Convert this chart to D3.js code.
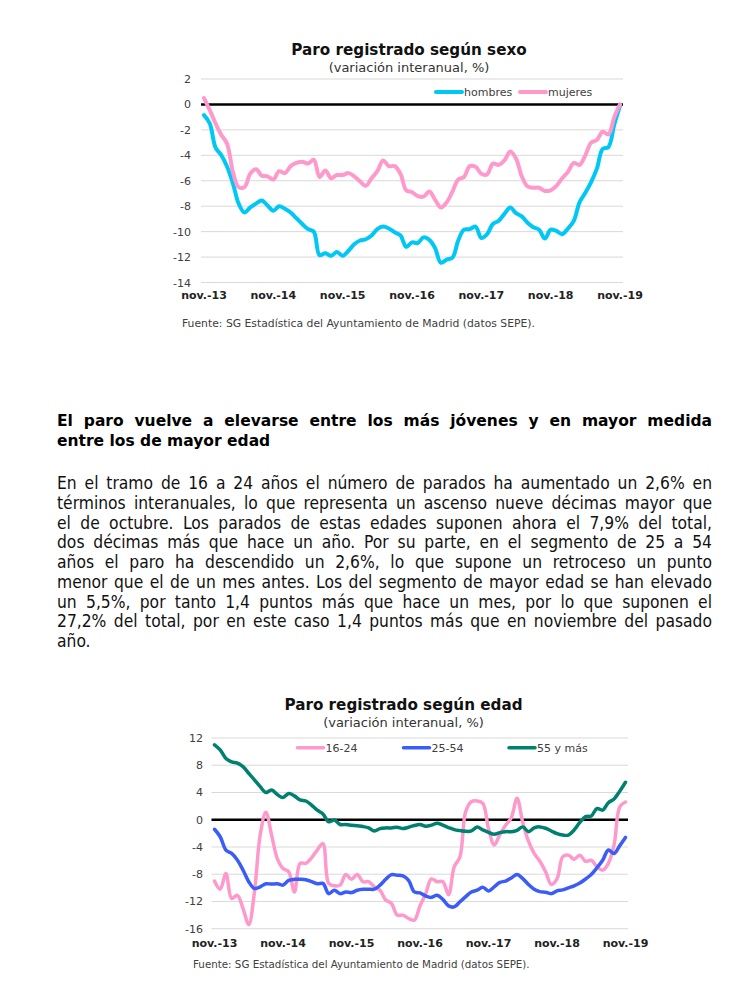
<!DOCTYPE html>
<html><head><meta charset="utf-8">
<script src="https://cdn.jsdelivr.net/npm/d3@7"></script>
<style>html,body{margin:0;padding:0;background:#fff;}svg{display:block;}</style>
</head><body>
<svg id="c" width="744" height="1001"></svg>
<script>
// ---------- DATA ----------
const months = d3.range(73); // nov-13 .. nov-19 monthly
const xTickLabels = ["nov.-13","nov.-14","nov.-15","nov.-16","nov.-17","nov.-18","nov.-19"];

const hombres = [-0.84,-1.5,-3.4,-4.0,-4.9,-6.2,-7.8,-8.5,-8.1,-7.8,-7.55,-7.95,-8.35,-8.0,-8.2,-8.5,-8.95,-9.4,-9.8,-10.0,
 -11.85,-11.7,-11.9,-11.6,-11.9,-11.5,-11.0,-10.7,-10.6,-10.3,-9.8,-9.6,-9.75,-10.05,-10.3,-11.2,
 -10.85,-10.9,-10.45,-10.65,-11.3,-12.45,-12.2,-12.05,-10.7,-9.85,-9.8,-9.6,-10.5,-10.2,-9.4,-9.15,-8.6,-8.1,-8.55,-8.8,
 -9.3,-9.65,-9.85,-10.55,-9.85,-9.95,-10.2,-9.75,-9.15,-7.7,-6.95,-6.1,-5.05,-3.5,-3.35,-1.6,-0.1];
const mujeres = [0.5,-0.45,-1.5,-2.4,-3.1,-5.3,-6.5,-6.5,-5.45,-5.1,-5.6,-5.65,-5.9,-5.25,-5.4,-4.85,-4.6,-4.5,-4.65,-4.35,
 -5.7,-5.2,-5.8,-5.55,-5.55,-5.4,-5.65,-6.05,-6.4,-5.8,-5.25,-4.4,-4.85,-4.85,-5.45,-6.75,
 -6.9,-7.2,-7.25,-6.85,-7.5,-8.1,-7.7,-6.85,-5.9,-5.7,-4.85,-4.9,-5.45,-5.5,-4.65,-4.75,-4.4,-3.7,-4.25,-5.65,
 -6.45,-6.55,-6.55,-6.8,-6.75,-6.4,-5.8,-5.3,-4.6,-4.75,-4.0,-3.0,-2.8,-2.15,-2.35,-1.0,0.0];

const edad1624 = [-9.0,-10.2,-7.9,-11.55,-11.1,-13.05,-15.4,-10.6,-2.25,1.1,-2.25,-5.7,-7.15,-7.65,-10.6,-6.4,-6.4,-5.6,-4.45,-3.5,
 -9.35,-9.7,-9.6,-8.05,-8.75,-8.05,-9.1,-9.1,-9.85,-10.35,-11.8,-12.3,-14.0,-14.0,-14.5,-14.75,
 -12.65,-10.85,-8.7,-9.1,-9.1,-11.0,-6.9,-5.45,1.2,2.65,2.75,2.4,-1.3,-3.7,-2.15,-0.8,0.3,3.15,-0.4,-3.15,
 -4.95,-6.1,-7.65,-9.5,-8.7,-5.45,-5.2,-5.8,-5.2,-6.1,-5.95,-6.9,-7.4,-6.4,-3.7,1.9,2.6];
const edad2554 = [-1.4,-2.5,-4.45,-4.95,-5.9,-7.4,-9.1,-10.1,-9.85,-9.4,-9.45,-9.4,-9.6,-8.9,-8.75,-8.75,-8.8,-9.1,-9.4,-9.35,
 -10.85,-10.35,-10.85,-10.6,-10.7,-10.35,-10.2,-10.2,-10.2,-9.6,-8.75,-8.05,-8.15,-8.25,-8.9,-10.6,
 -10.75,-11.2,-11.4,-11.1,-11.7,-12.65,-12.8,-12.05,-11.3,-10.6,-10.35,-9.9,-10.45,-9.85,-9.2,-9.0,-8.55,-8.05,-8.65,-9.5,
 -10.2,-10.55,-10.65,-10.85,-10.45,-10.3,-10.0,-9.7,-9.3,-8.7,-8.05,-7.05,-5.95,-4.45,-4.95,-3.8,-2.6];
const edad55 = [11.0,10.25,9.0,8.5,8.3,7.8,6.8,5.85,4.85,4.0,4.35,3.7,3.25,3.85,3.5,2.9,2.75,2.15,1.4,0.85,
 -0.3,-0.05,-0.7,-0.7,-0.8,-0.9,-1.0,-1.2,-1.65,-1.3,-1.2,-1.2,-1.1,-1.3,-1.1,-0.85,
 -0.7,-0.95,-0.8,-0.5,-0.8,-1.15,-1.45,-1.6,-1.7,-1.65,-1.05,-1.5,-1.85,-2.15,-1.9,-1.75,-1.75,-1.55,-1.05,-1.75,
 -1.2,-1.05,-1.25,-1.65,-2.05,-2.25,-2.25,-1.5,-0.4,0.45,0.55,1.65,1.4,2.5,3.05,4.2,5.5];

const sexoTicks = [2,0,-2,-4,-6,-8,-10,-12,-14];
const edadTicks = [12,8,4,0,-4,-8,-12,-16];

const heading = ["El paro vuelve a elevarse entre los más jóvenes y en mayor medida","entre los de mayor edad"];
const bodyLines = [
 "En el tramo de 16 a 24 años el número de parados ha aumentado un 2,6% en",
 "términos interanuales, lo que representa un ascenso nueve décimas mayor que",
 "el de octubre. Los parados de estas edades suponen ahora el 7,9% del total,",
 "dos décimas más que hace un año. Por su parte, en el segmento de 25 a 54",
 "años el paro ha descendido un 2,6%, lo que supone un retroceso un punto",
 "menor que el de un mes antes. Los del segmento de mayor edad se han elevado",
 "un 5,5%, por tanto 1,4 puntos más que hace un mes, por lo que suponen el",
 "27,2% del total, por en este caso 1,4 puntos más que en noviembre del pasado",
 "año."];
const fuente = "Fuente: SG Estadística del Ayuntamiento de Madrid (datos SEPE).";

// ---------- DRAW ----------
const svg = d3.select("#c");
svg.append("rect").attr("width",744).attr("height",1001).attr("fill","#fff");
const chartFont = "'DejaVu Sans', Verdana, sans-serif";

function chart(cfg){
  const g = svg.append("g").attr("font-family", chartFont);
  const x = d3.scaleLinear().domain([0,72]).range(cfg.xr);
  const y = d3.scaleLinear().domain(cfg.yd).range(cfg.yr);
  g.append("text").attr("x",cfg.tx).attr("y",cfg.ty).attr("text-anchor","middle")
    .attr("font-weight","bold").attr("font-size",15.2).attr("fill","#111").text(cfg.title);
  g.append("text").attr("x",cfg.tx).attr("y",cfg.ty+17).attr("text-anchor","middle")
    .attr("font-size",13).attr("fill","#333").text("(variación interanual, %)");
  // grid
  g.selectAll(".grid").data(cfg.ticks).join("line")
    .attr("x1",cfg.gx[0]).attr("x2",cfg.gx[1])
    .attr("y1",d=>y(d)).attr("y2",d=>y(d))
    .attr("stroke","#d9d9d9").attr("stroke-width",1);
  g.selectAll(".yl").data(cfg.ticks).join("text")
    .attr("x",cfg.ylx).attr("y",d=>y(d)+4).attr("text-anchor","end")
    .attr("font-size",11).attr("fill","#404040").text(d=>d);
  // x labels
  g.selectAll(".xl").data(xTickLabels).join("text")
    .attr("x",(d,i)=>x(i*12)).attr("y",cfg.xly).attr("text-anchor","middle")
    .attr("font-size",11).attr("font-weight","bold").attr("fill","#222").text(d=>d);
  // zero line
  g.append("line").attr("x1",cfg.gx[0]).attr("x2",cfg.gx[1]).attr("y1",y(0)).attr("y2",y(0))
    .attr("stroke","#000").attr("stroke-width",2.5);
  const line = d3.line().x((d,i)=>x(i)).y(d=>y(d)).curve(d3.curveCatmullRom.alpha(0.5));
  cfg.series.forEach(s=>{
    g.append("path").attr("d",line(s.values)).attr("fill","none")
      .attr("stroke",s.color).attr("stroke-width",cfg.lw).attr("stroke-linejoin","round").attr("stroke-linecap","round");
  });
  // legend
  cfg.series.forEach(s=>{
    g.append("line").attr("x1",s.lx).attr("x2",s.lx+26).attr("y1",cfg.ly).attr("y2",cfg.ly)
      .attr("stroke",s.color).attr("stroke-width",cfg.lw).attr("stroke-linecap","round");
    g.append("text").attr("x",s.lx+28).attr("y",cfg.ly+4).attr("font-size",11).attr("fill","#404040").text(s.name);
  });
  g.append("text").attr("x",cfg.sx).attr("y",cfg.sy).attr("font-size",cfg.sfs).attr("fill","#404040").text(fuente);
}

chart({title:"Paro registrado según sexo", tx:409, ty:55,
  xr:[204,620], yd:[-14,2], yr:[282.5,79], gx:[201,623], ylx:191, xly:299, ticks:sexoTicks, lw:4,
  ly:92, sx:182, sy:326.5, sfs:10.8,
  series:[{name:"hombres",values:hombres,color:"#00c8f5",lx:436},
          {name:"mujeres",values:mujeres,color:"#ff99cc",lx:520}]});

chart({title:"Paro registrado según edad", tx:403.5, ty:710,
  xr:[214.5,625.5], yd:[-16,12], yr:[928.7,738], gx:[211.5,628], ylx:203, xly:947, ticks:edadTicks, lw:3.5,
  ly:747.7, sx:193, sy:968, sfs:10.3,
  series:[{name:"16-24",values:edad1624,color:"#ff99cc",lx:297.5},
          {name:"25-54",values:edad2554,color:"#3a5cf7",lx:403.5},
          {name:"55 y más",values:edad55,color:"#00806f",lx:509}]});

// ---------- TEXT BLOCK ----------
function justify(sel, target){
  sel.each(function(){
    const len = this.getComputedTextLength();
    const txt = this.textContent;
    const n = (txt.match(/ /g)||[]).length;
    if(n>0) d3.select(this).attr("word-spacing", (target-len)/n);
  });
}
const tg = svg.append("g");
const L = 57, R = 712;
const h = tg.selectAll(".h").data(heading).join("text")
  .attr("x",L).attr("y",(d,i)=>426+i*20)
  .attr("font-family",chartFont).attr("font-weight","bold").attr("font-size",15.5).attr("fill","#000")
  .text(d=>d);
justify(h.filter((d,i)=>i===0), R-L);

const b = tg.selectAll(".b").data(bodyLines).join("text")
  .attr("x",L).attr("y",(d,i)=>489+i*19.75)
  .attr("font-family","'DejaVu Sans Condensed', 'Liberation Sans Narrow', Roboto, sans-serif")
  .attr("font-size",17.3).attr("fill","#111")
  .text(d=>d);
justify(b.filter((d,i)=>i<bodyLines.length-1), R-L);
</script>
</body></html>
